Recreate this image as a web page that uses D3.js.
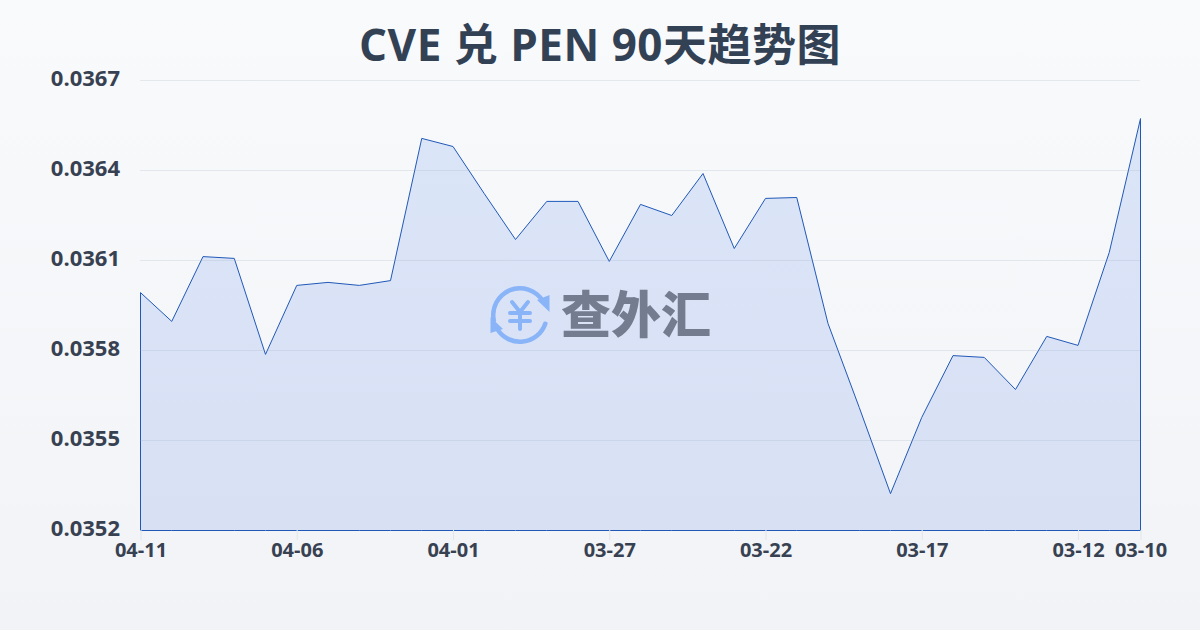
<!DOCTYPE html>
<html><head><meta charset="utf-8">
<script src="https://cdn.jsdelivr.net/npm/d3@7/dist/d3.min.js"></script>
<style>html,body{margin:0;padding:0;background:#f8fafc}svg{display:block}</style>
</head><body><div id="c"></div>
<script>
const dates=["04-11","04-10","04-09","04-08","04-07","04-06","04-05","04-04","04-03","04-02","04-01","03-31","03-30","03-29","03-28","03-27","03-26","03-25","03-24","03-23","03-22","03-21","03-20","03-19","03-18","03-17","03-16","03-15","03-14","03-13","03-12","03-11","03-10"];
const rates=[0.035993,0.035897,0.036113,0.036107,0.035787,0.036017,0.036027,0.036017,0.036033,0.036507,0.03648,0.036323,0.03617,0.036297,0.036297,0.036097,0.036287,0.03625,0.03639,0.03614,0.036307,0.03631,0.03589,0.03561,0.035323,0.035577,0.035783,0.035777,0.03567,0.035847,0.035817,0.036127,0.036573];
const yTicks=[0.0352,0.0355,0.0358,0.0361,0.0364,0.0367];
const xTicks=["04-11","04-06","04-01","03-27","03-22","03-17","03-12","03-10"];
const titleText="CVE 兑 PEN 90天趋势图";
const watermark="查外汇";
const W=1200,H=630,font="'Open Sans','Noto Sans CJK SC',sans-serif",axisFont=font;
const svg=d3.select("#c").append("svg").attr("width",W).attr("height",H).attr("viewBox",`0 0 ${W} ${H}`);
const defs=svg.append("defs");
const bg=defs.append("linearGradient").attr("id","bg").attr("x1",0).attr("y1",0).attr("x2",0).attr("y2",1);
bg.append("stop").attr("offset",0).attr("stop-color","#f8fafc");
bg.append("stop").attr("offset",1).attr("stop-color","#f1f3f6");
const ag=defs.append("linearGradient").attr("id","ag").attr("x1",0).attr("y1",0).attr("x2",0).attr("y2",1);
ag.append("stop").attr("offset",0).attr("stop-color","#dbe5f8");
ag.append("stop").attr("offset",1).attr("stop-color","#d8e0f4");
svg.append("rect").attr("width",W).attr("height",H).attr("fill","url(#bg)");
const x=d3.scalePoint().domain(dates).range([140.5,1140.5]);
const y=d3.scaleLinear().domain([0.0352,0.0367]).range([530.5,80.5]);
svg.append("text").attr("x",600).attr("y",61).attr("text-anchor","middle").attr("font-family",font).attr("font-weight",700).attr("font-size",44).attr("letter-spacing",.5).attr("fill","#334155").text(titleText);
const area=d3.area().x((d,i)=>x(dates[i])).y0(y(0.0352)).y1(d=>y(d));
svg.append("path").datum(rates).attr("d",d=>area(d)).attr("fill","url(#ag)").attr("stroke","#2058b8").attr("stroke-width",1).attr("stroke-linejoin","round");
const yAxis=svg.append("g").attr("transform","translate(140,0)").call(d3.axisLeft(y).tickValues(yTicks).tickSize(0).tickFormat(d3.format(".4f")));
yAxis.select(".domain").remove();
yAxis.selectAll("line.grid").data(yTicks.slice(1)).enter().append("line").attr("class","grid").attr("x1",0).attr("x2",1000).attr("y1",d=>y(d)).attr("y2",d=>y(d)).attr("stroke","#94a3b8").attr("stroke-opacity",.2);
yAxis.selectAll("text").attr("x",-20).attr("dy",".22em").attr("font-family",axisFont).attr("font-weight",700).attr("font-size",22).attr("fill","#374151");
const xAxis=svg.append("g").attr("transform","translate(0,530)").call(d3.axisBottom(x).tickValues(xTicks).tickSize(10).tickPadding(3));
xAxis.select(".domain").remove();
xAxis.selectAll("line").attr("stroke","#e2e5ea");
xAxis.selectAll("text").attr("font-family",axisFont).attr("font-weight",700).attr("font-size",20).attr("fill","#374151");
// logo
const logo=svg.append("g").attr("transform","translate(520,315)");
const blue="#8ab4f8";
logo.selectAll("path.arc").data([[-1.86,1.09],[1.82,4.23]]).enter().append("path").attr("d",d=>d3.arc().innerRadius(24.5).outerRadius(29).cornerRadius(2).startAngle(d[0]).endAngle(d[1])()).attr("fill",blue);
logo.append("path").attr("d",d3.line()([[17,-15],[29.5,-20],[29.5,-3]])+"Z").attr("fill",blue);
logo.append("path").attr("d",d3.line()([[-29.5,2],[-29.5,18],[-17,14]])+"Z").attr("fill",blue);
logo.append("path").attr("d","M-8,-13L0,-3L8,-13M-10,-2H10M-10,6H10M0,-3V14").attr("fill","none").attr("stroke",blue).attr("stroke-width",4).attr("stroke-linecap","round").attr("stroke-linejoin","round");
svg.append("text").attr("x",636).attr("y",333).attr("text-anchor","middle").attr("font-family","'Noto Sans CJK SC'").attr("font-weight",900).attr("font-size",50).attr("fill","#737d8f").text(watermark);
</script></body></html>
